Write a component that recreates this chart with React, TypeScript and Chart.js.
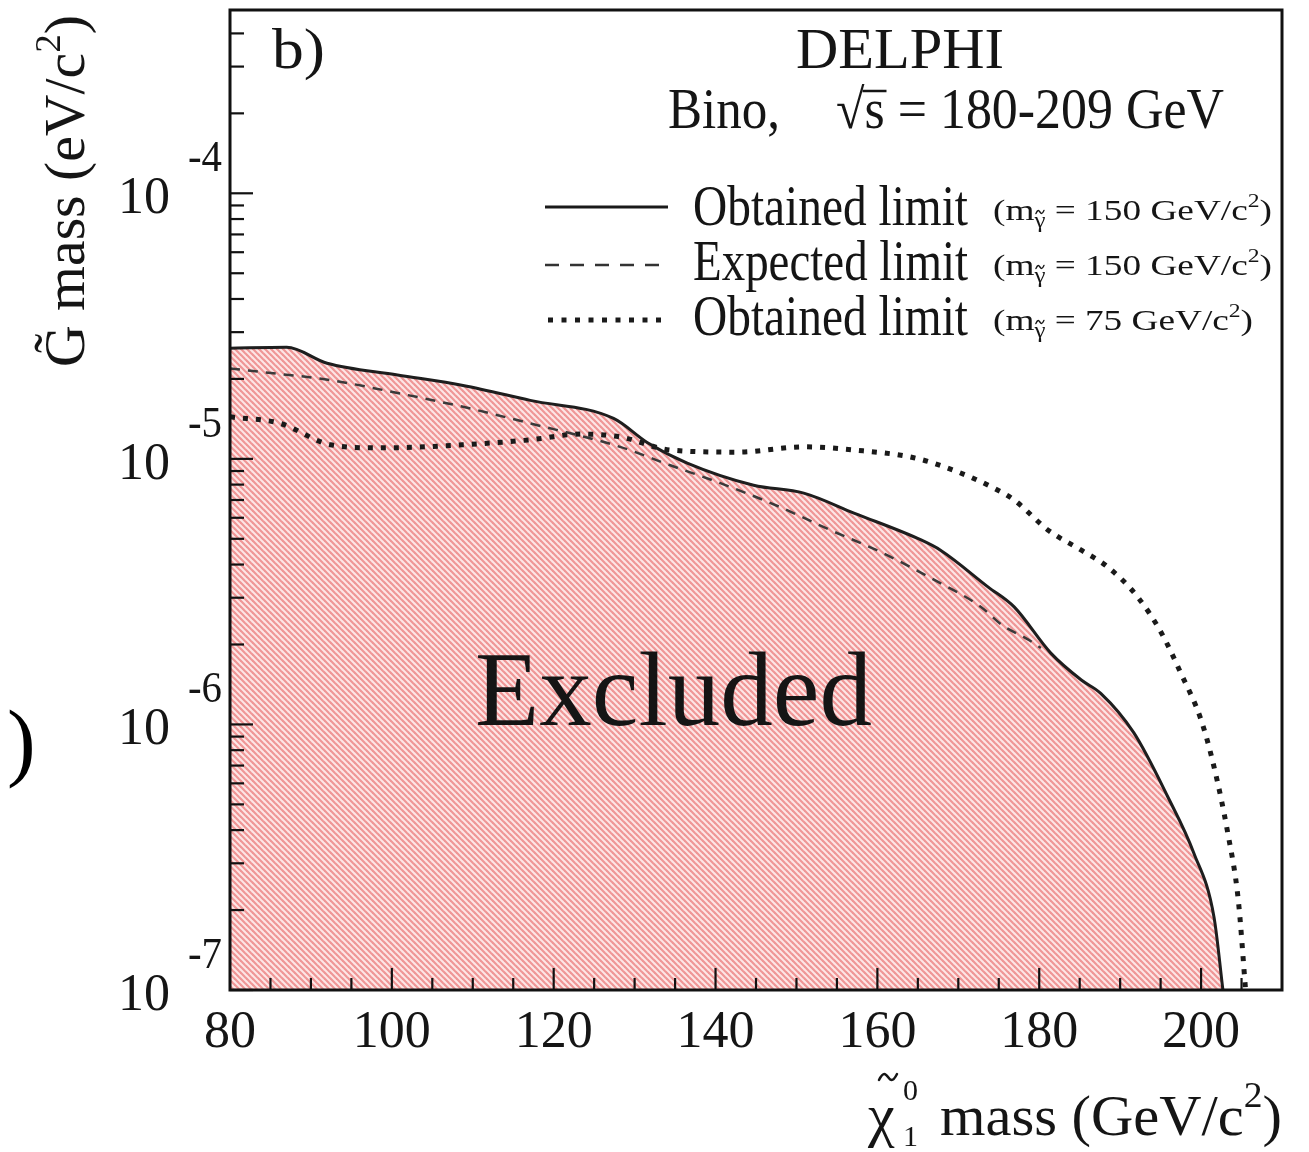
import React, { useEffect, useRef } from 'react';
import { Chart, registerables } from 'chart.js';

Chart.register(...registerables);

const FONT = '"Liberation Serif", "Times New Roman", serif';
const INK = '#151515';

// Obtained limit (m = 150 GeV/c^2) - solid, excluded region below
const obtained150X = [80, 87.0, 92.0, 100.7, 108.8, 117.1, 127.4, 131.6, 136.5, 144.7, 150.9, 157.1, 165.4, 167.8, 173.7, 176.9, 181.4, 185.2, 187.6, 191.7, 195.9, 199.1, 201.6, 202.7];
const obtained150Y = [2.61e-5, 2.63e-5, 2.29e-5, 2.07e-5, 1.89e-5, 1.66e-5, 1.42e-5, 1.15e-5, 9.64e-6, 7.96e-6, 7.43e-6, 6.25e-6, 4.95e-6, 4.53e-6, 3.29e-6, 2.77e-6, 1.86e-6, 1.47e-6, 1.31e-6, 9.29e-7, 5.33e-7, 3.28e-7, 1.88e-7, 1.0e-7];

// Expected limit (m = 150 GeV/c^2) - dashed
const expected150X = [80, 84.1, 92.4, 100.7, 108.8, 117.1, 128.2, 134.4, 140.6, 148.0, 154.2, 160.4, 166.6, 172.8, 175.3, 178.6, 180.2];
const expected150Y = [2.19e-5, 2.12e-5, 1.98e-5, 1.77e-5, 1.57e-5, 1.36e-5, 1.11e-5, 9.46e-6, 8.10e-6, 6.58e-6, 5.39e-6, 4.46e-6, 3.56e-6, 2.77e-6, 2.38e-6, 2.09e-6, 1.94e-6];

// Obtained limit (m = 75 GeV/c^2) - dotted
const obtained75X = [80, 86.2, 92.4, 98.6, 108.8, 117.1, 123.3, 128.2, 134.4, 142.7, 150.9, 157.1, 164.5, 169.4, 174.4, 176.9, 181.1, 185.2, 188.5, 192.2, 195.1, 197.5, 200.0, 201.6, 203.3, 204.6, 205.5];
const obtained75Y = [1.44e-5, 1.36e-5, 1.13e-5, 1.10e-5, 1.13e-5, 1.18e-5, 1.24e-5, 1.21e-5, 1.08e-5, 1.06e-5, 1.11e-5, 1.08e-5, 1.01e-5, 9.06e-6, 7.76e-6, 7.00e-6, 5.39e-6, 4.53e-6, 3.91e-6, 3.01e-6, 2.21e-6, 1.56e-6, 1.04e-6, 6.92e-7, 3.90e-7, 2.18e-7, 1.0e-7];

const xTickLabels = [80, 100, 120, 140, 160, 180, 200];
const yDecades = [-4, -5, -6, -7];
const legendLabels = ['Obtained limit', 'Expected limit', 'Obtained limit'];
const legendMasses = ['150', '150', '75'];

type Seg = { t: string; s: number; dy?: number };

function drawRich(ctx: CanvasRenderingContext2D, segs: Seg[], x: number, y: number, targetW?: number, align: 'left' | 'center' | 'right' = 'left') {
  let w = 0;
  const widths: number[] = [];
  for (const g of segs) {
    ctx.font = `${g.s}px ${FONT}`;
    const mw = ctx.measureText(g.t).width;
    widths.push(mw);
    w += mw;
  }
  const sc = targetW ? targetW / w : 1;
  const total = w * sc;
  const sx = align === 'center' ? x - total / 2 : align === 'right' ? x - total : x;
  ctx.save();
  ctx.translate(sx, y);
  ctx.scale(sc, 1);
  ctx.textAlign = 'left';
  ctx.textBaseline = 'alphabetic';
  ctx.fillStyle = INK;
  let cx = 0;
  segs.forEach((g, i) => {
    ctx.font = `${g.s}px ${FONT}`;
    ctx.fillText(g.t, cx, g.dy || 0);
    cx += widths[i];
  });
  ctx.restore();
  return { sc, sx, widths };
}

function drawTilde(ctx: CanvasRenderingContext2D, cx: number, cy: number, w: number, h: number, lw: number) {
  ctx.save();
  ctx.strokeStyle = INK;
  ctx.lineWidth = lw;
  ctx.lineCap = 'round';
  ctx.beginPath();
  ctx.moveTo(cx - w / 2, cy + h / 2);
  ctx.bezierCurveTo(cx - w / 4, cy - h, cx - w / 8, cy - h / 2, cx, cy);
  ctx.bezierCurveTo(cx + w / 8, cy + h / 2, cx + w / 4, cy + h, cx + w / 2, cy - h / 2);
  ctx.stroke();
  ctx.restore();
}

function makeHatch(): CanvasPattern | string {
  const c = document.createElement('canvas');
  const n = 6;
  c.width = n;
  c.height = n;
  const g = c.getContext('2d');
  if (!g) return '#f8c8c8';
  g.fillStyle = '#fde6e6';
  g.fillRect(0, 0, n, n);
  g.strokeStyle = '#ef9696';
  g.lineWidth = 2.2;
  for (const off of [-n, 0, n]) {
    g.beginPath();
    g.moveTo(-1 + off, -1);
    g.lineTo(n + 1 + off, n + 1);
    g.stroke();
  }
  const p = g.createPattern(c, 'repeat');
  return p || '#f8c8c8';
}

const decorPlugin = {
  id: 'decor',
  afterDraw(chart: any) {
    const ctx: CanvasRenderingContext2D = chart.ctx;
    const { left, right, top, bottom } = chart.chartArea;
    const xs = chart.scales.x;
    const ys = chart.scales.y;
    ctx.save();

    // ticks (inward)
    ctx.strokeStyle = '#111';
    ctx.lineWidth = 2.2;
    for (let v = 85; v < 210; v += 5) {
      const px = xs.getPixelForValue(v);
      const len = v % 20 === 0 ? 22 : 12;
      ctx.beginPath();
      ctx.moveTo(px, bottom);
      ctx.lineTo(px, bottom - len);
      ctx.stroke();
    }
    for (let d = -7; d <= -4; d++) {
      for (let k = 1; k <= 9; k++) {
        const v = k * Math.pow(10, d);
        if (v > ys.max || v < ys.min) continue;
        const py = ys.getPixelForValue(v);
        const len = k === 1 ? 23 : 14;
        ctx.beginPath();
        ctx.moveTo(left, py);
        ctx.lineTo(left + len, py);
        ctx.stroke();
      }
    }

    // frame
    ctx.lineWidth = 3;
    ctx.strokeStyle = '#111';
    ctx.strokeRect(left, top, right - left, bottom - top);

    // x tick labels
    ctx.fillStyle = INK;
    ctx.font = `52px ${FONT}`;
    ctx.textAlign = 'center';
    ctx.textBaseline = 'alphabetic';
    for (const v of xTickLabels) {
      ctx.fillText(String(v), xs.getPixelForValue(v), 1047);
    }

    // y tick labels
    for (const d of yDecades) {
      const py = ys.getPixelForValue(Math.pow(10, d));
      ctx.fillStyle = INK;
      ctx.font = `52px ${FONT}`;
      ctx.textAlign = 'right';
      ctx.fillText('10', 170, py + 20);
      drawRich(ctx, [{ t: String(d), s: 45 }], 188, py - 22, 34);
    }

    // y axis title (rotated)
    ctx.save();
    ctx.translate(84, 367);
    ctx.rotate(-Math.PI / 2);
    drawRich(ctx, [{ t: 'G\u0303 mass (eV/c', s: 56 }, { t: '2', s: 36, dy: -24 }, { t: ')', s: 56 }], 0, 0, 352);
    ctx.restore();

    // x axis title
    ctx.fillStyle = INK;
    ctx.textAlign = 'left';
    ctx.font = `60px ${FONT}`;
    ctx.fillText('\u03C7', 868, 1135);
    drawTilde(ctx, 888, 1077, 18, 6, 2.5);
    ctx.font = `30px ${FONT}`;
    ctx.fillText('0', 903, 1100);
    ctx.fillText('1', 903, 1146);
    drawRich(ctx, [{ t: 'mass (GeV/c', s: 56 }, { t: '2', s: 36, dy: -28 }, { t: ')', s: 56 }], 940, 1135, 342);

    // panel label & header
    drawRich(ctx, [{ t: 'b)', s: 58 }], 272, 68, 53);
    drawRich(ctx, [{ t: 'DELPHI', s: 56 }], 900, 68, 208, 'center');
    drawRich(ctx, [{ t: 'Bino,', s: 56 }], 668, 128, 112);
    const r = drawRich(ctx, [{ t: '\u221A', s: 56 }, { t: 's = 180-209 GeV', s: 56 }], 836, 128, 388);
    ctx.strokeStyle = INK;
    ctx.lineWidth = 2.5;
    ctx.beginPath();
    const ox = r.sx + r.widths[0] * r.sc - 2;
    ctx.moveTo(ox, 91);
    ctx.lineTo(ox + 24, 91);
    ctx.stroke();

    // legend
    const rows = [207, 265, 320];
    const base = [225, 280, 335];
    ctx.strokeStyle = '#1a1a1a';
    rows.forEach((yy, i) => {
      ctx.save();
      ctx.beginPath();
      if (i === 0) {
        ctx.lineWidth = 3;
        ctx.setLineDash([]);
      } else if (i === 1) {
        ctx.lineWidth = 2.5;
        ctx.setLineDash([14, 11]);
        ctx.strokeStyle = '#333';
      } else {
        ctx.lineWidth = 5;
        ctx.setLineDash([5, 8.5]);
      }
      ctx.moveTo(i === 2 ? 548 : 545, yy);
      ctx.lineTo(668, yy);
      ctx.stroke();
      ctx.restore();
      drawRich(ctx, [{ t: legendLabels[i], s: 56 }], 693, base[i], 275);
      const by = base[i] - 5;
      const rr = drawRich(
        ctx,
        [
          { t: '(m', s: 30 },
          { t: '\u03B3', s: 20, dy: 7 },
          { t: ' = ' + legendMasses[i] + ' GeV/c', s: 30 },
          { t: '2', s: 19, dy: -13 },
          { t: ')', s: 30 },
        ],
        993,
        by,
        i === 2 ? 260 : 279
      );
      const gx = rr.sx + (rr.widths[0] + rr.widths[1] / 2) * rr.sc;
      drawTilde(ctx, gx, by - 8, 8, 3, 1.4);
    });

    // excluded label
    drawRich(ctx, [{ t: 'Excluded', s: 105 }], 475, 725, 397);

    // stray parenthesis at left margin
    ctx.fillStyle = '#000';
    ctx.font = `86px ${FONT}`;
    ctx.textAlign = 'left';
    ctx.fillText(')', 7, 770);

    ctx.restore();
  },
};

export default function App() {
  const ref = useRef<HTMLCanvasElement | null>(null);

  useEffect(() => {
    if (!ref.current) return;
    const hatch = makeHatch();
    const toPts = (xs: number[], ys: number[]) => xs.map((x, i) => ({ x, y: ys[i] }));
    const chart = new Chart(ref.current, {
      type: 'line',
      data: {
        datasets: [
          {
            label: 'Obtained limit (m = 150 GeV/c2)',
            data: toPts(obtained150X, obtained150Y),
            borderColor: '#1e1e1e',
            borderWidth: 3,
            pointRadius: 0,
            fill: 'start',
            backgroundColor: hatch as any,
            cubicInterpolationMode: 'monotone',
          },
          {
            label: 'Expected limit (m = 150 GeV/c2)',
            data: toPts(expected150X, expected150Y),
            borderColor: '#3a3a3a',
            borderWidth: 2.5,
            borderDash: [10, 8],
            pointRadius: 0,
            fill: false,
            cubicInterpolationMode: 'monotone',
          },
          {
            label: 'Obtained limit (m = 75 GeV/c2)',
            data: toPts(obtained75X, obtained75Y),
            borderColor: '#1a1a1a',
            borderWidth: 5,
            borderDash: [5, 8],
            borderCapStyle: 'butt',
            pointRadius: 0,
            fill: false,
            cubicInterpolationMode: 'monotone',
          },
        ],
      },
      options: {
        responsive: false,
        animation: false,
        layout: { padding: { left: 0, top: 10, right: 27, bottom: 0 } },
        plugins: {
          legend: { display: false },
          tooltip: { enabled: false },
          filler: { drawTime: 'beforeDatasetsDraw' },
        },
        scales: {
          x: {
            type: 'linear',
            min: 80,
            max: 210,
            grid: { display: false },
            border: { display: false },
            ticks: { display: false },
            afterFit: (s: any) => {
              s.height = 162;
            },
          },
          y: {
            type: 'logarithmic',
            min: 1e-7,
            max: 4.9e-4,
            grid: { display: false },
            border: { display: false },
            ticks: { display: false },
            afterFit: (s: any) => {
              s.width = 230;
            },
          },
        },
      },
      plugins: [decorPlugin],
    } as any);
    return () => chart.destroy();
  }, []);

  return (
    <div style={{ position: 'absolute', left: 0, top: 0, width: 1309, height: 1152, background: '#fff' }}>
      <canvas ref={ref} width={1309} height={1152} style={{ width: 1309, height: 1152, display: 'block' }} />
    </div>
  );
}
